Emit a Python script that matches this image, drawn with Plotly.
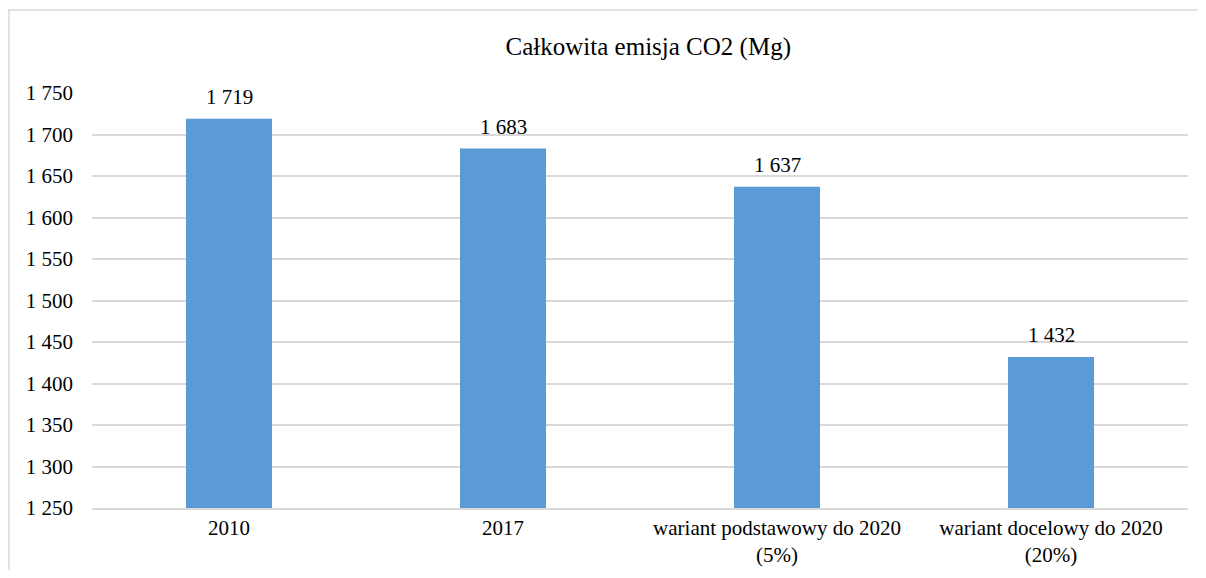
import plotly.graph_objects as go

categories = ["2010", "2017", "wariant podstawowy do 2020<br>(5%)", "wariant docelowy do 2020<br>(20%)"]
values = [1719, 1683, 1637, 1432]
value_labels = ["1 719", "1 683", "1 637", "1 432"]
y_ticks = [1250, 1300, 1350, 1400, 1450, 1500, 1550, 1600, 1650, 1700, 1750]

font_family = "Liberation Serif"

# page has 8px body margin; figure occupies 8..1198 x 8..570
W, H = 1190, 562
fig = go.Figure()
fig.add_trace(go.Bar(
    x=categories,
    y=values,
    marker=dict(color="#5B9BD5", line=dict(width=0)),
    hoverinfo="x+y",
))

annotations = [
    dict(
        x=i, y=v, xref="x", yref="y", text=t, showarrow=False,
        yanchor="middle", yshift=22,
        font=dict(family=font_family, size=21, color="#000000"),
    )
    for i, (v, t) in enumerate(zip(values, value_labels))
]

fig.update_layout(
    width=W,
    height=H,
    margin=dict(l=84, r=10, t=85, b=62),
    paper_bgcolor="white",
    plot_bgcolor="white",
    separators=". ",
    bargap=0.686,
    showlegend=False,
    title=dict(
        text="Całkowita emisja CO2 (Mg)",
        x=(612 - 8) / W,
        xanchor="center",
        xref="paper",
        y=1 - (46 - 8) / H,
        yref="container",
        yanchor="middle",
        font=dict(family=font_family, size=25, color="#000000"),
    ),
    font=dict(family=font_family, size=21, color="#000000"),
    yaxis=dict(
        range=[1250, 1750],
        tickvals=y_ticks,
        tickformat=",d",
        showgrid=True,
        gridcolor="#D9D9D9",
        gridwidth=1.5,
        zeroline=False,
        showline=False,
        ticks="",
        ticklabelstandoff=18,
        automargin=False,
        tickfont=dict(family=font_family, size=21, color="#000000"),
    ),
    xaxis=dict(
        type="category",
        range=[-0.5, len(categories) - 0.5],
        showline=True,
        linecolor="#D9D9D9",
        linewidth=1.5,
        ticks="",
        ticklabelstandoff=0,
        automargin=False,
        tickfont=dict(family=font_family, size=21, color="#000000"),
    ),
    annotations=annotations,
    shapes=[
        dict(type="line", xref="paper", yref="paper",
             x0=-84 / 1096, x1=1.2, y0=(500 - 2) / 415, y1=(500 - 2) / 415,
             line=dict(color="#D9D9D9", width=1.5)),
        dict(type="line", xref="paper", yref="paper",
             x0=(1 - 84) / 1096, x1=(1 - 84) / 1096, y0=-0.3, y1=(500 - 2) / 415,
             line=dict(color="#D9D9D9", width=1.5)),
    ],
)

fig.write_html("out.html")
